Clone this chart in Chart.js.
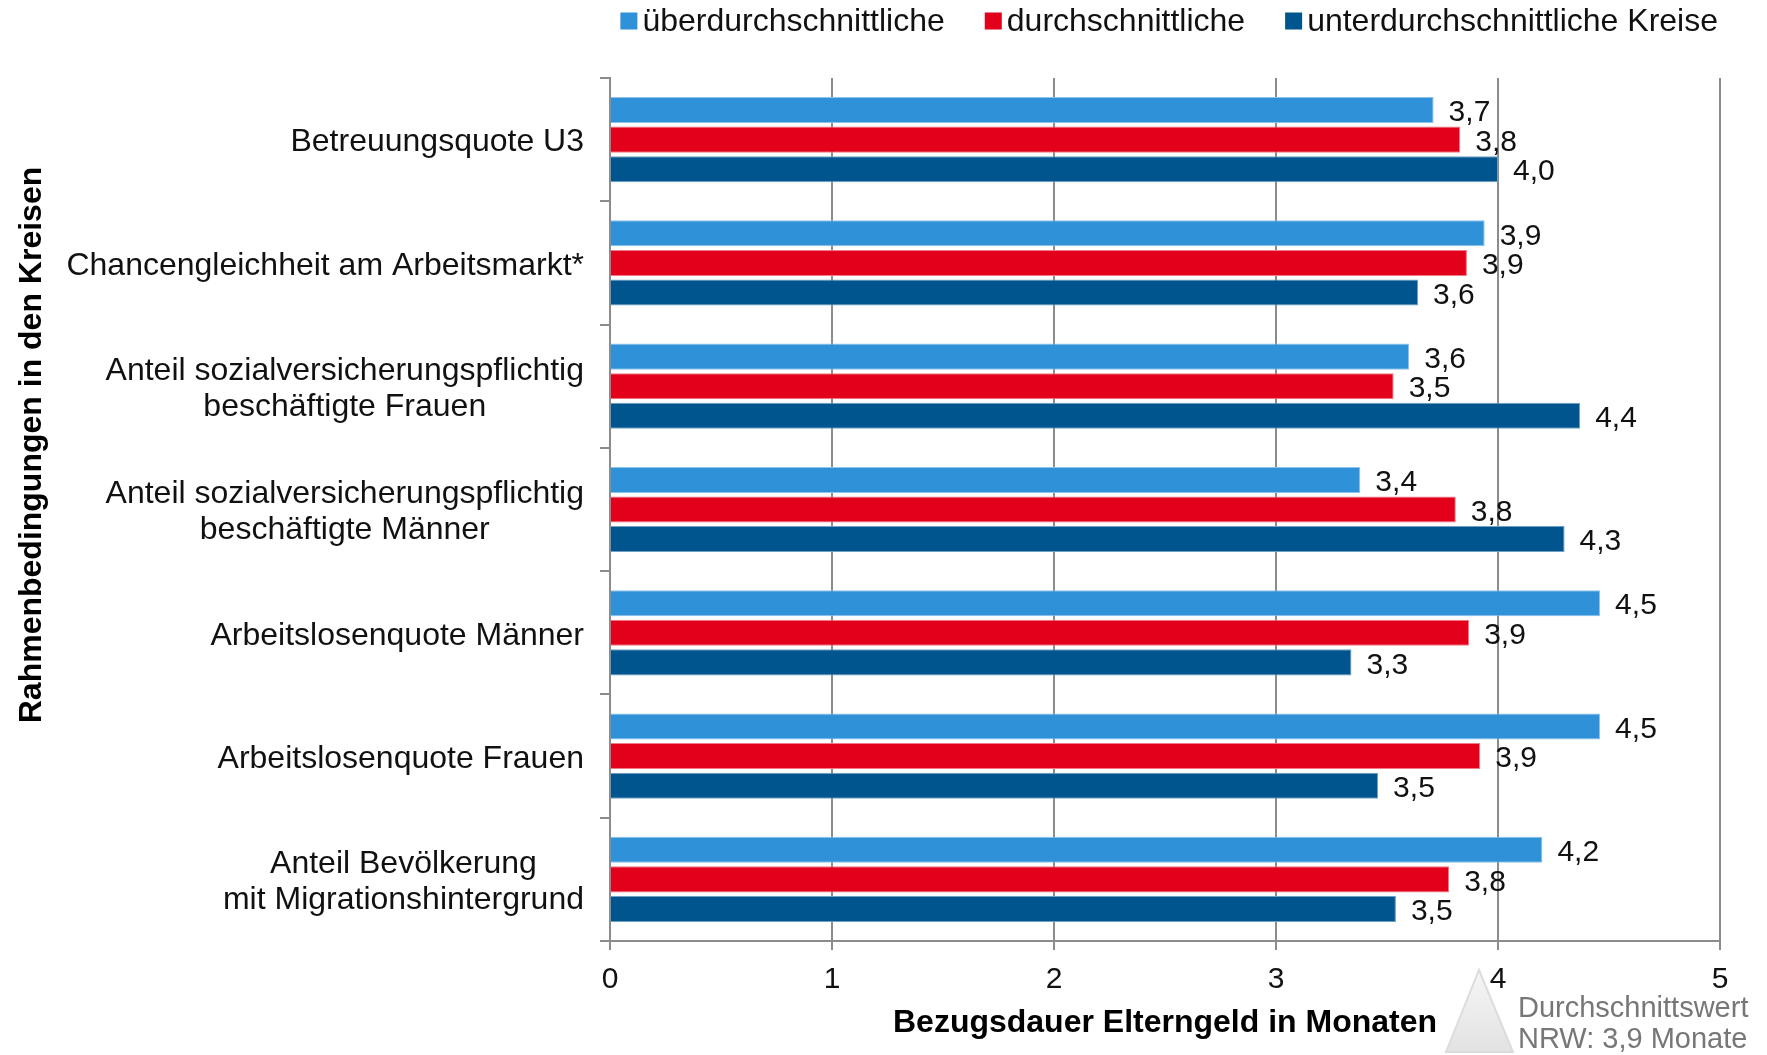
<!DOCTYPE html>
<html>
<head>
<meta charset="utf-8">
<script src="https://cdn.jsdelivr.net/npm/chart.js@4.4.0/dist/chart.umd.min.js"></script>
<style>
  html, body { margin: 0; padding: 0; background: #fff; }
  #wrap { width: 1767px; height: 1055px; position: relative; }
</style>
</head>
<body>
<div id="wrap"><canvas id="myChart"></canvas></div>
<script>
// categories (top to bottom)
const categories = [
    ['Betreuungsquote U3'],
    ['Chancengleichheit am Arbeitsmarkt*'],
    ['Anteil sozialversicherungspflichtig', 'beschäftigte Frauen'],
    ['Anteil sozialversicherungspflichtig', 'beschäftigte Männer'],
    ['Arbeitslosenquote Männer'],
    ['Arbeitslosenquote Frauen'],
    ['Anteil Bevölkerung', 'mit Migrationshintergrund']
];

// months of Elterngeld
const ueberdurchschnittlich = [3.71, 3.94, 3.60, 3.38, 4.46, 4.46, 4.20];
const durchschnittlich      = [3.83, 3.86, 3.53, 3.81, 3.87, 3.92, 3.78];
const unterdurchschnittlich = [4.00, 3.64, 4.37, 4.30, 3.34, 3.46, 3.54];

const seriesNames = ['überdurchschnittliche', 'durchschnittliche', 'unterdurchschnittliche Kreise'];
const xTicks = [0, 1, 2, 3, 4, 5];

const FONT = '"Liberation Sans", Arial, sans-serif';
const GRID = '#8c8c8c';

const colors = ['#2F91D8', '#E2001A', '#00558F'];
const edges = ['#8cc2ec', '#f07a88', '#6f9fc2'];

const fmt = v => v.toFixed(1).replace('.', ',');

// labels right of each bar
const valueLabels = {
    id: 'valueLabels',
    afterDatasetsDraw(chart) {
        const ctx = chart.ctx;
        ctx.save();
        ctx.font = '30px ' + FONT;
        ctx.fillStyle = '#111';
        ctx.textAlign = 'left';
        ctx.textBaseline = 'middle';
        chart.data.datasets.forEach((ds, i) => {
            chart.getDatasetMeta(i).data.forEach((bar, j) => {
                ctx.fillText(fmt(ds.data[j]), bar.x + 15, bar.y + 3);
            });
        });
        ctx.restore();
    }
};

// category labels: block right aligned, lines centred within block
const categoryLabels = {
    id: 'categoryLabels',
    afterDraw(chart) {
        const ctx = chart.ctx;
        const y = chart.scales.y;
        ctx.save();
        ctx.font = '32px ' + FONT;
        ctx.fillStyle = '#111';
        ctx.textAlign = 'center';
        ctx.textBaseline = 'middle';
        const lh = 36;
        categories.forEach((lines, i) => {
            const w = Math.max(...lines.map(l => ctx.measureText(l).width));
            const cx = y.right - 26 - w / 2;
            const cy = y.getPixelForValue(i) + 3;
            lines.forEach((l, k) => {
                ctx.fillText(l, cx, cy + (k - (lines.length - 1) / 2) * lh);
            });
        });
        // y axis title
        ctx.translate(32, 445);
        ctx.rotate(-Math.PI / 2);
        ctx.font = 'bold 32px ' + FONT;
        ctx.fillStyle = '#000';
        ctx.fillText('Rahmenbedingungen in den Kreisen', 0, 0);
        ctx.restore();
    }
};

// legend at top right
const topLegend = {
    id: 'topLegend',
    afterDraw(chart) {
        const ctx = chart.ctx;
        ctx.save();
        ctx.font = '32px ' + FONT;
        ctx.textBaseline = 'middle';
        ctx.textAlign = 'left';
        const box = 17, gap = 5, spacing = 40, cy = 21;
        const widths = chart.data.datasets.map(d => ctx.measureText(d.label).width);
        const total = widths.reduce((a, w) => a + box + gap + w, 0) + spacing * (widths.length - 1);
        let x = 1718 - total;
        chart.data.datasets.forEach((d, i) => {
            ctx.fillStyle = d.backgroundColor;
            ctx.fillRect(x, cy - box / 2, box, box);
            ctx.fillStyle = '#111';
            ctx.fillText(d.label, x + box + gap, cy + 1);
            x += box + gap + widths[i] + spacing;
        });
        ctx.restore();
    }
};

// note bottom right
const avgNote = {
    id: 'avgNote',
    afterDraw(chart) {
        const ctx = chart.ctx;
        ctx.save();
        const g = ctx.createLinearGradient(0, 970, 0, 1052);
        g.addColorStop(0, '#f6f6f6');
        g.addColorStop(1, '#e2e2e2');
        ctx.beginPath();
        ctx.moveTo(1479, 970);
        ctx.lineTo(1513, 1052);
        ctx.lineTo(1446, 1052);
        ctx.closePath();
        ctx.fillStyle = g;
        ctx.fill();
        ctx.strokeStyle = '#dcdcdc';
        ctx.lineWidth = 2;
        ctx.stroke();
        ctx.font = '29px ' + FONT;
        ctx.fillStyle = '#777';
        ctx.textAlign = 'left';
        ctx.textBaseline = 'middle';
        ctx.fillText('Durchschnittswert', 1518, 1009);
        ctx.fillText('NRW: 3,9 Monate', 1518, 1040);
        ctx.restore();
    }
};

const seriesValues = [ueberdurchschnittlich, durchschnittlich, unterdurchschnittlich];
const dataSets = seriesValues.map((vals, i) => ({
    label: seriesNames[i],
    data: vals,
    backgroundColor: colors[i],
    borderColor: edges[i],
    borderWidth: 1,
    barPercentage: 0.88,
    categoryPercentage: 0.72
}));

const ctx = document.getElementById('myChart').getContext('2d');
const myChart = new Chart(ctx, {
    type: 'bar',
    data: {
        labels: categories.map(c => c.join(' ')),
        datasets: dataSets
    },
    options: {
        indexAxis: 'y',
        responsive: true,
        maintainAspectRatio: false,
        animation: false,
        layout: {
            padding: { top: 78, right: 47, left: 0, bottom: 0 }
        },
        scales: {
            x: {
                min: 0,
                max: 5,
                afterBuildTicks: scale => { scale.ticks = xTicks.map(v => ({ value: v })); },
                afterFit: scale => { scale.height = 114; },
                ticks: {
                    padding: 12,
                    color: '#111',
                    font: { family: FONT, size: 30 }
                },
                grid: {
                    color: GRID,
                    lineWidth: 2,
                    tickLength: 9
                },
                border: { color: GRID, width: 2 },
                title: {
                    display: true,
                    text: 'Bezugsdauer Elterngeld in Monaten',
                    color: '#000',
                    font: { family: FONT, size: 32, weight: 'bold' },
                    padding: { top: 0, bottom: 13 }
                }
            },
            y: {
                afterFit: scale => { scale.width = 610; },
                ticks: { display: false },
                grid: {
                    drawOnChartArea: false,
                    offset: true,
                    color: GRID,
                    lineWidth: 2,
                    tickLength: 10
                },
                border: { color: GRID, width: 2 }
            }
        },
        plugins: {
            legend: { display: false },
            tooltip: { enabled: false }
        }
    },
    plugins: [valueLabels, categoryLabels, topLegend, avgNote]
});
</script>
</body>
</html>
